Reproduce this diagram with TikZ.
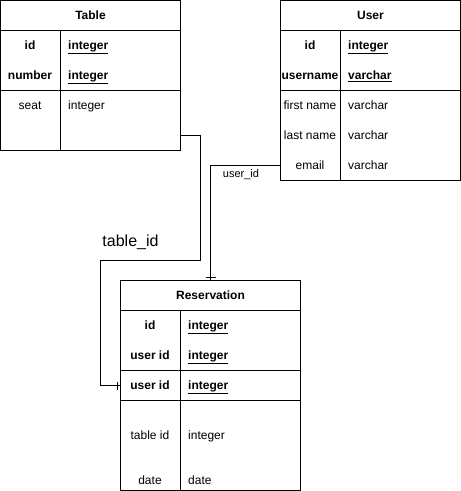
\documentclass[tikz,border=0pt]{standalone}
\usepackage{fontspec}
\setmainfont{Liberation Sans}
\usetikzlibrary{positioning}

\tikzstyle{entity} = [rectangle, 
draw=black, 
line width=1pt, 
inner sep=0pt, 
outer sep=0pt, 
minimum width=180pt]
\tikzstyle{head} = [entity, 
minimum height=30pt, 
font=\fontsize{12}{14}\selectfont\bfseries]
\tikzstyle{rowbox} = [rectangle, inner sep=0pt, outer sep=0pt, minimum width=180pt, minimum height=30pt]
\tikzstyle{field} = [inner sep=0pt, text height=8.6pt, text depth=0pt, 
font=\fontsize{12}{14}\selectfont]
\tikzstyle{keyfield} = [field, font=\fontsize{12}{14}\selectfont\bfseries]
\tikzstyle{typefield} = [field, anchor=west]
\tikzstyle{keytype} = [keyfield, anchor=west]
\tikzstyle{link} = [line width=1pt]

\begin{document}
\begin{tikzpicture}[x=1pt, y=-1pt]
\useasboundingbox (0,0) rectangle (461,491);

% Table
\node (table) [head] at (90.5,15.5) {Table};
\node (table_keys) [entity, minimum height=60pt, below=0pt of table] {};
\node (table_rest) [entity, minimum height=60pt, below=0pt of table_keys] {};
\draw [link] ([xshift=60pt]table_keys.north west) -- ([xshift=60pt]table_rest.south west);
\node (table_id) [keyfield] at (30,45) {id};
\node (table_number) [keyfield] at (30,75) {number};
\node (table_seat) [field] at (30,105) {seat};
\node (table_id_t) [keytype] at (68,45) {\underline{integer}};
\node (table_number_t) [keytype] at (68,75) {\underline{integer}};
\node (table_seat_t) [typefield] at (68,105) {integer};

% User
\node (user) [head] at (370.5,15.5) {User};
\node (user_keys) [entity, minimum height=60pt, below=0pt of user] {};
\node (user_rest) [entity, minimum height=90pt, below=0pt of user_keys] {};
\draw [link] ([xshift=60pt]user_keys.north west) -- ([xshift=60pt]user_rest.south west);
\node (user_email) [rowbox] at (370.5,165.5) {};
\node (user_id) [keyfield] at (310,45) {id};
\node (user_username) [keyfield] at (310,75) {username};
\node (user_first) [field] at (310,105) {first name};
\node (user_last) [field] at (310,135) {last name};
\node (user_mail) [field] at (310,165) {email};
\node (user_id_t) [keytype] at (348,45) {\underline{integer}};
\node (user_username_t) [keytype] at (348,75) {\underline{varchar}};
\node (user_first_t) [typefield] at (348,105) {varchar};
\node (user_last_t) [typefield] at (348,135) {varchar};
\node (user_mail_t) [typefield] at (348,165) {varchar};

% Reservation
\node (res) [head] at (210.5,295.5) {Reservation};
\node (res_keys) [entity, minimum height=60pt, below=0pt of res] {};
\node (res_fk) [entity, minimum height=30pt, below=0pt of res_keys] {};
\node (res_rest) [entity, minimum height=90pt, below=0pt of res_fk] {};
\draw [link] ([xshift=60pt]res_keys.north west) -- ([xshift=60pt]res_rest.south west);
\node (res_id) [keyfield] at (150,325) {id};
\node (res_user) [keyfield] at (150,355) {user id};
\node (res_user2) [keyfield] at (150,385) {user id};
\node (res_table) [field] at (150,435) {table id};
\node (res_date) [field] at (150,480) {date};
\node (res_id_t) [keytype] at (188,325) {\underline{integer}};
\node (res_user_t) [keytype] at (188,355) {\underline{integer}};
\node (res_user2_t) [keytype] at (188,385) {\underline{integer}};
\node (res_table_t) [typefield] at (188,435) {integer};
\node (res_date_t) [typefield] at (188,480) {date};

% links
\coordinate (table_fk) at ([yshift=-15pt]table_rest.east);
\draw [link] (table_fk) -- ++(20,0) -- ++(0,125) 
  -- node[pos=0.7, anchor=base, yshift=14pt, font=\fontsize{16}{19}\selectfont] {table\_id} ++(-100,0) 
  |- (res_fk.west);
\draw [link] ([xshift=-3pt]res_fk.west) ++(0,-4) -- ++(0,8);

\draw [link] (user_email.west) -| (res.north);
\draw [link] ([yshift=3pt]res.north) ++(-5,0) -- ++(10,0);
\node (user_fk_label) [font=\fontsize{11}{13}\selectfont] at (241,175) {user\_id};

\end{tikzpicture}
\end{document}
